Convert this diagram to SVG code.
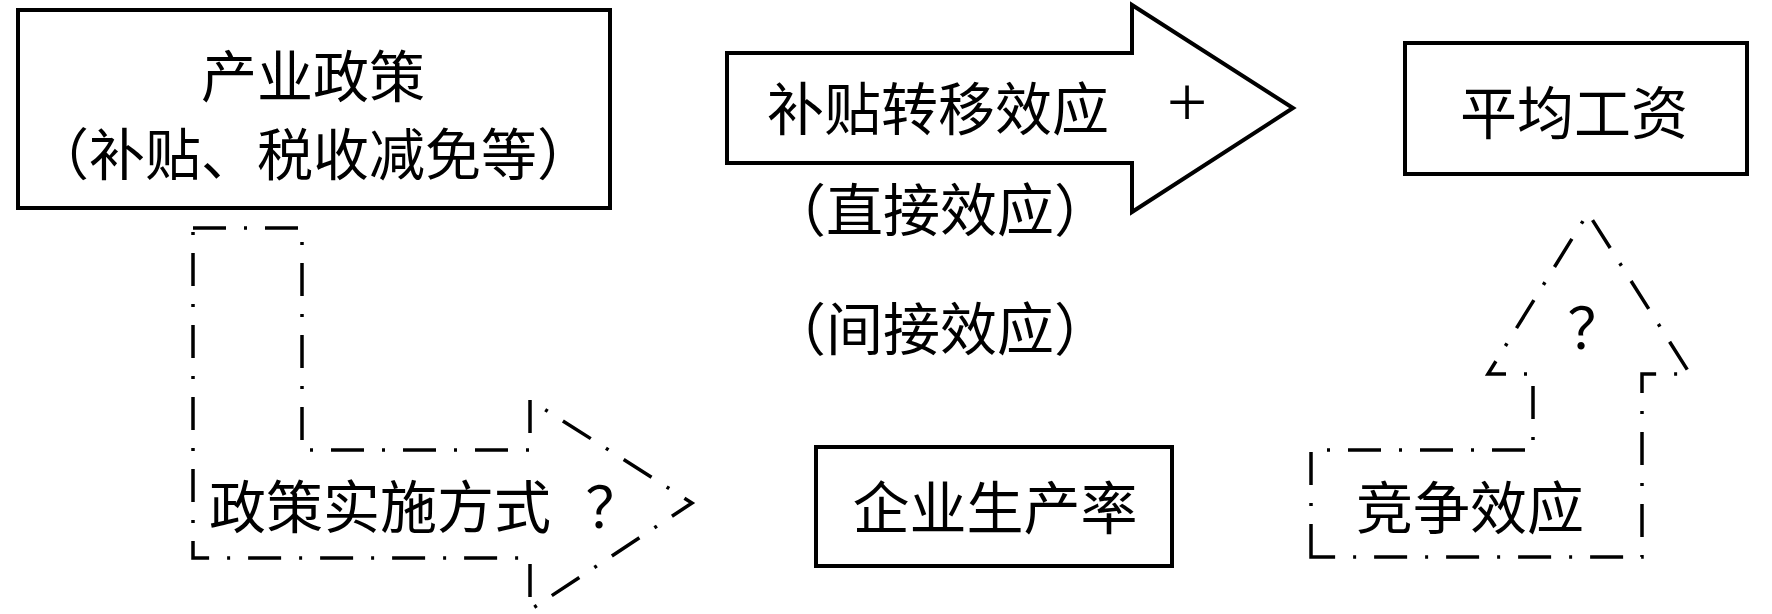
<svg xmlns="http://www.w3.org/2000/svg" width="1772" height="614" viewBox="0 0 1772 614">
  <style>
    .box { fill: #ffffff; stroke: #000000; stroke-width: 4; }
    .solid { fill: #ffffff; stroke: #000000; stroke-width: 4; stroke-linejoin: miter; }
    .dashdot { fill: none; stroke: #000000; stroke-width: 3.5; stroke-dasharray: 33 18 3 18; stroke-linejoin: miter; }
    .t { font-family: "Noto Sans CJK SC", "Liberation Serif", sans-serif; font-size: 57px; fill: #000000; text-anchor: middle; dominant-baseline: central; }
    .t2 { font-size: 56px; }
    .plus { font-family: "Liberation Serif", serif; font-size: 72px; fill: #000000; text-anchor: middle; }
  </style>
  <rect x="0" y="0" width="1772" height="614" fill="#ffffff"/>

  <g id="connectors">
    <g id="arrow-subsidy">
      <path class="solid" d="M727,53 L1132,53 L1132,5 L1293,108 L1132,212 L1132,163 L727,163 Z"/>
      <text class="t" x="938" y="105">补贴转移效应</text>
      <text class="plus" x="1187" y="126">+</text>
    </g>
    <g id="arrow-policy-mode">
      <path class="dashdot" d="M193,228 L302,228 L302,450 L530,450 L530,400 L692,503 L530,610 L530,558 L193,558 Z"/>
      <text class="t"><tspan x="380" y="503">政策实施方式</tspan><tspan x="614" y="503">？</tspan></text>
    </g>
    <g id="arrow-competition">
      <path class="dashdot" d="M1311,557 L1311,450 L1533,450 L1533,374 L1488,374 L1588,213 L1690,374 L1642,374 L1642,557 Z"/>
      <text class="t" x="1470" y="504">竞争效应</text>
      <text class="t" x="1596" y="324">？</text>
    </g>
  </g>

  <g id="node-policy">
    <rect class="box" x="18" y="10" width="592" height="198"/>
    <text class="t t2" x="313" y="72">产业政策</text>
    <text class="t t2" x="313" y="150">（补贴、税收减免等）</text>
  </g>

  <g id="node-wage">
    <rect class="box" x="1405" y="43" width="342" height="131"/>
    <text class="t" x="1574" y="109">平均工资</text>
  </g>

  <g id="node-productivity">
    <rect class="box" x="816" y="447" width="356" height="119"/>
    <text class="t" x="995" y="504">企业生产率</text>
  </g>

  <g id="label-direct">
    <text class="t" x="940" y="206">（直接效应）</text>
  </g>
  <g id="label-indirect">
    <text class="t" x="940" y="325">（间接效应）</text>
  </g>
</svg>
